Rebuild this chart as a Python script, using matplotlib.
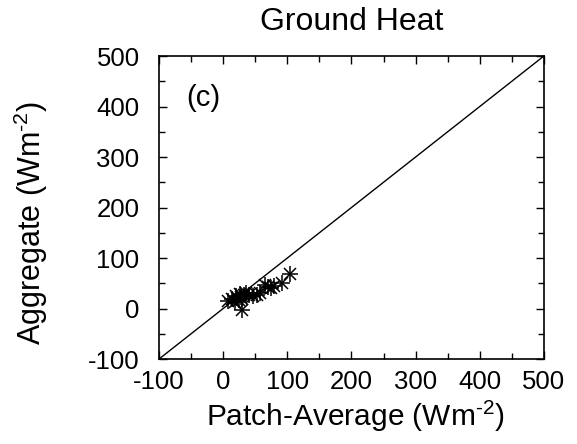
import matplotlib
matplotlib.use('Agg')
import matplotlib.pyplot as plt
from matplotlib.ticker import MultipleLocator

# patch-average vs aggregate ground heat flux (W m-2)
patch_avg = [8, 14, 18, 20, 22, 24, 26, 28, 30, 32, 35, 29, 40, 47, 52, 57, 65, 70, 75, 80, 91, 104]
aggregate = [14, 18, 12, 24, 20, 16, 28, 22, 18, 26, 30, -3, 27, 24, 26, 30, 46, 42, 40, 44, 51, 68]
one_to_one = [-100, 500]

plt.rcParams['font.family'] = ['Liberation Sans', 'DejaVu Sans']
plt.rcParams['mathtext.fontset'] = 'custom'
plt.rcParams['mathtext.rm'] = 'Liberation Sans'
plt.rcParams['axes.unicode_minus'] = False

fig = plt.figure(figsize=(5.77, 4.44), dpi=100)
ax = fig.add_axes([0.2756, 0.1914, 0.667, 0.6824])

ax.plot(one_to_one, one_to_one, color='black', lw=1.0)
ax.plot(patch_avg, aggregate, ls='none', marker='+', ms=11, mew=1.1, color='black')
ax.plot(patch_avg, aggregate, ls='none', marker='x', ms=8, mew=1.1, color='black')

ax.set_xlim(-100, 500)
ax.set_ylim(-100, 500)
ax.xaxis.set_major_locator(MultipleLocator(100))
ax.yaxis.set_major_locator(MultipleLocator(100))
ax.xaxis.set_minor_locator(MultipleLocator(50))
ax.yaxis.set_minor_locator(MultipleLocator(50))
ax.tick_params(which='both', direction='in', top=True, right=True, width=1.0)
ax.tick_params(which='major', length=6, labelsize=18.5)
ax.tick_params(axis='y', which='major', pad=14)
ax.tick_params(axis='x', which='major', pad=8)
ax.tick_params(which='minor', length=4)
for s in ax.spines.values():
    s.set_linewidth(1.2)

ax.text(-58, 417, '(c)', fontsize=21, va='center', ha='left')
ax.set_title('Ground Heat', fontsize=23, pad=19)
ax.set_xlabel('Patch-Average (Wm$^{\\text{-2}}$)', fontsize=21.5)
ax.set_ylabel('Aggregate (Wm$^{\\text{-2}}$)', fontsize=22)
ax.xaxis.set_label_coords(0.509, -0.13)
ax.yaxis.set_label_coords(-0.283, 0.45)

fig.savefig('out.png', dpi=100)
